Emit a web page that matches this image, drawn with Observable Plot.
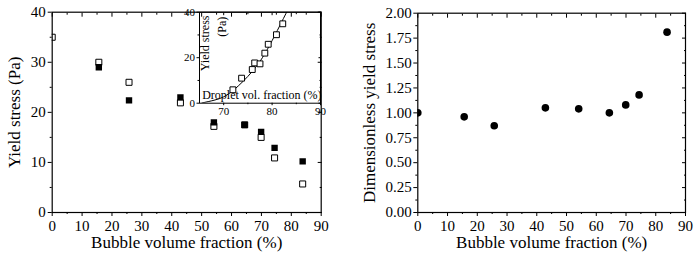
<!DOCTYPE html>
<html><head><meta charset="utf-8">
<script src="https://cdn.jsdelivr.net/npm/d3@7"></script>
<script src="https://cdn.jsdelivr.net/npm/@observablehq/plot@0.6"></script>
<style>
body{margin:0;background:#fff;}
#wrap{position:relative;width:697px;height:258px;overflow:hidden;background:#fff;}
#wrap svg{position:absolute;}
#wrap svg text{font-family:"Liberation Serif","DejaVu Serif",Tinos,"Times New Roman",Times,serif !important;}
</style></head><body><div id="wrap"></div>
<script>
// ---- data ----
const bubbleFraction = [0, 15.6, 25.7, 42.9, 54.1, 64.4, 69.9, 74.4, 83.8];
const yieldFilled   = [null, 29.0, 22.4, 23.0, 18.0, 17.5, 16.1, 12.9, 10.2];
const yieldOpen     = [35.0, 30.0, 26.0, 21.9, 17.2, 17.5, 15.0, 10.9, 5.7];
const dimensionless = [1.00, 0.96, 0.87, 1.05, 1.04, 1.00, 1.08, 1.18, 1.81];

const dropletFraction = [71.9, 73.7, 75.9, 76.4, 77.5, 78.5, 79.2, 80.9, 82.2];
const dropletYield    = [5.9, 11.0, 14.8, 17.7, 17.3, 22.0, 25.9, 30.1, 34.9];
const fitFraction = [65.5, 68, 70, 72, 74, 76, 78, 80, 82, 83.0];
const fitYield    = [0.1, 1.3, 2.8, 5.7, 9.6, 14.2, 20.0, 27.5, 35.8, 40];

const xTicks = [0, 10, 20, 30, 40, 50, 60, 70, 80, 90];
const xMinor = [5, 15, 25, 35, 45, 55, 65, 75, 85];
const yTicksL = [0, 10, 20, 30, 40];
const yMinorL = [5, 15, 25, 35];
const yTicksR = [0, 0.25, 0.5, 0.75, 1, 1.25, 1.5, 1.75, 2];
const yMinorR = [0.125, 0.375, 0.625, 0.875, 1.125, 1.375, 1.625, 1.875];
const insetXTicks = [70, 80, 90];
const insetXMinor = [75, 85];
const insetYTicks = [0, 20, 40];
const insetYMinor = [10, 30];

const blank = () => "";
const FONT = '"Liberation Serif","DejaVu Serif",Tinos,"Times New Roman",Times,serif';

function boxAxes({xt, xm, yt, ym, fmtX, fmtY, fs, major, minor, padX, padY}) {
  return [
    Plot.axisX({anchor: "bottom", ticks: xt, tickSize: major, tickPadding: padX, tickFormat: fmtX, fontSize: fs, fontFamily: FONT, label: null}),
    Plot.axisX({anchor: "bottom", ticks: xm, tickSize: minor, tickFormat: blank, label: null}),
    Plot.axisX({anchor: "top", ticks: xt, tickSize: -major, tickFormat: blank, label: null}),
    Plot.axisX({anchor: "top", ticks: xm, tickSize: -minor, tickFormat: blank, label: null}),
    Plot.axisY({anchor: "left", ticks: yt, tickSize: major, tickPadding: padY, tickFormat: fmtY, fontSize: fs, fontFamily: FONT, label: null}),
    Plot.axisY({anchor: "left", ticks: ym, tickSize: minor, tickFormat: blank, label: null}),
    Plot.axisY({anchor: "right", ticks: yt, tickSize: -major, tickFormat: blank, label: null}),
    Plot.axisY({anchor: "right", ticks: ym, tickSize: -minor, tickFormat: blank, label: null})
  ];
}

const style = "font-family:" + FONT + ";font-size:15px;color:black;background:transparent;overflow:visible;";

const mainRows = bubbleFraction.map((x, i) => ({x, filled: yieldFilled[i], open: yieldOpen[i], dim: dimensionless[i]}));
const insetRows = dropletFraction.map((x, i) => ({x, y: dropletYield[i]}));
const fitRows = fitFraction.map((x, i) => ({x, y: fitYield[i]}));

// ---- inset (drawn beneath main plot's frame) ----
const inset = Plot.plot({
  width: 160, height: 122,
  marginLeft: 34, marginRight: 5, marginTop: 11.7, marginBottom: 19.3,
  x: {domain: [65, 90]}, y: {domain: [0, 40]},
  style,
  marks: [
    Plot.frame({fill: "white", stroke: null}),
    Plot.line(fitRows, {x: "x", y: "y", curve: "natural", stroke: "black", strokeWidth: 1, clip: true}),
    Plot.dot(insetRows, {x: "x", y: "y", symbol: "square", r: 3.3, stroke: "black", fill: "white", strokeWidth: 1}),
    ...boxAxes({xt: insetXTicks, xm: insetXMinor, yt: insetYTicks, ym: insetYMinor, fmtX: d3.format("d"), fmtY: d3.format("d"), fs: 11, major: 2.5, minor: 1.5, padX: 1, padY: 2}),
    Plot.frame({stroke: "black", strokeWidth: 1}),
    Plot.text(["Droplet vol. fraction (%)"], {text: d => d, frameAnchor: "bottom-left", textAnchor: "start", lineAnchor: "middle", dx: 2.7, dy: -8, fontSize: 12, fontFamily: FONT}),
    Plot.text(["Yield stress"], {text: d => d, frameAnchor: "top-left", textAnchor: "end", lineAnchor: "middle", rotate: -90, dx: 6, dy: 3.3, fontSize: 12, fontFamily: FONT}),
    Plot.text(["(Pa)"], {text: d => d, frameAnchor: "top-left", textAnchor: "end", lineAnchor: "middle", rotate: -90, dx: 23, dy: 4.5, fontSize: 12, fontFamily: FONT})
  ]
});
inset.style.left = "165px"; inset.style.top = "0px";

// ---- left main plot ----
const left = Plot.plot({
  width: 340, height: 258,
  marginLeft: 51.7, marginRight: 19.3, marginTop: 11.7, marginBottom: 46,
  x: {domain: [0, 90]}, y: {domain: [0, 40]},
  style,
  marks: [
    Plot.dot(mainRows, {x: "x", y: "open", symbol: "square", r: 3.4, stroke: "black", fill: "white", strokeWidth: 1, clip: true}),
    Plot.dot(mainRows.filter(d => d.filled != null), {x: "x", y: "filled", symbol: "square", r: 3.6, fill: "black", clip: true}),
    ...boxAxes({xt: xTicks, xm: xMinor, yt: yTicksL, ym: yMinorL, fmtX: d3.format("d"), fmtY: d3.format("d"), fs: 15, major: 4, minor: 2, padX: 4, padY: 2.5}),
    Plot.frame({stroke: "black", strokeWidth: 1.2}),
    Plot.text(["Yield stress (Pa)"], {text: d => d, frameAnchor: "left", textAnchor: "middle", rotate: -90, lineAnchor: "middle", dx: -37.3, fontSize: 17, fontFamily: FONT}),
    Plot.text(["Bubble volume fraction (%)"], {text: d => d, frameAnchor: "bottom", textAnchor: "middle", lineAnchor: "middle", dy: 30.3, fontSize: 17, fontFamily: FONT})
  ]
});
left.style.left = "0px"; left.style.top = "0px";

// ---- right plot ----
const right = Plot.plot({
  width: 347, height: 258,
  marginLeft: 67.3, marginRight: 12, marginTop: 12.7, marginBottom: 46,
  x: {domain: [0, 90]}, y: {domain: [0, 2]},
  style,
  marks: [
    Plot.dot(mainRows, {x: "x", y: "dim", r: 3.8, fill: "black", clip: true}),
    ...boxAxes({xt: xTicks, xm: xMinor, yt: yTicksR, ym: yMinorR, fmtX: d3.format("d"), fmtY: d3.format(".2f"), fs: 15, major: 4, minor: 2, padX: 4, padY: 2}),
    Plot.frame({stroke: "black", strokeWidth: 1.2}),
    Plot.text(["Dimensionless yield stress"], {text: d => d, frameAnchor: "left", textAnchor: "middle", rotate: -90, lineAnchor: "middle", dx: -47.8, fontSize: 17, fontFamily: FONT}),
    Plot.text(["Bubble volume fraction (%)"], {text: d => d, frameAnchor: "bottom", textAnchor: "middle", lineAnchor: "middle", dy: 30.3, fontSize: 17, fontFamily: FONT})
  ]
});
right.style.left = "350px"; right.style.top = "0px";

const wrap = document.getElementById("wrap");
wrap.appendChild(inset);
wrap.appendChild(left);
wrap.appendChild(right);
</script></body></html>
